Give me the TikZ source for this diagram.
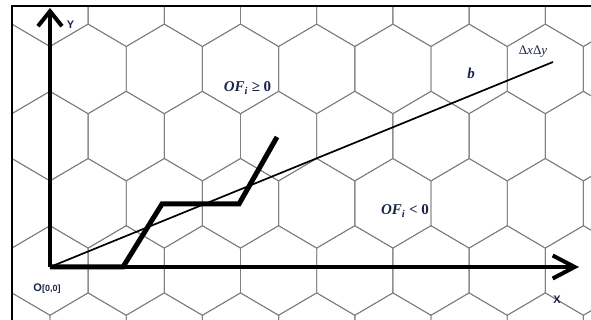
\documentclass[tikz,border=0pt]{standalone}
\usepackage{fontspec}
\usepackage{tikz}
\usetikzlibrary{arrows.meta,calc}
\newfontfamily\axisfont{Liberation Sans}
\newfontfamily\labelfont{Liberation Serif}
\definecolor{labelnavy}{RGB}{28,36,72}
\newcommand{\ofsub}{{\bfseries\itshape OF\textsubscript{i}}}

\begin{document}
\begin{tikzpicture}[x=1pt,y=1pt,
  hexline/.style={draw=gray,line width=0.9pt},
  axisline/.style={line width=4pt},
  pathline/.style={line width=5pt,line join=miter},
  ofilabel/.style={text=labelnavy,font=\labelfont\fontsize{15}{17}\selectfont},
  axislabel/.style={text=labelnavy,font=\axisfont\bfseries\fontsize{11}{13}\selectfont}]
\useasboundingbox (-50,-53) rectangle (541,267);
% hexagon cells, clipped to the frame
\begin{scope}
\clip (-38,-53) rectangle (541,261);
\foreach \j in {-1,...,4} {
  \foreach \k in {-1,...,8} {
    \pgfmathsetmacro\cx{76.2*\k-38.1*mod(\j+2,2)}
    \pgfmathsetmacro\cy{-3.5+67.2*\j}
    \draw[hexline] (\cx,\cy) ++(38.1,22.4) -- ++(-38.1,22.4) -- ++(-38.1,-22.4)
      -- ++(0,-44.8) -- ++(38.1,-22.4) -- ++(38.1,22.4) -- cycle;
  }
}
\end{scope}
% frame (top and left)
\draw[line width=2.6pt] (-38,-53) -- (-38,261) -- (541,261);
% origin, axis tips and path corners
\coordinate (O) at (0,0);
\coordinate (ytip) at (0,259);
\coordinate (xtip) at (529,0);
\coordinate (p1) at (73,0);
\coordinate (p2) at (112,63);
\coordinate (p3) at (189,63);
\coordinate (p4) at (227,130);
\coordinate (bend) at (503,205);
% axes
\draw[axisline,-{Straight Barb[length=15pt,width=24pt]}] (O) -- (ytip);
\draw[axisline,-{Straight Barb[length=22pt,width=23pt]}] (O) -- (xtip);
% line b
\draw[line width=1.7pt] (O) -- (bend);
% stepped path
\draw[pathline] (O) -- (p1) -- (p2) -- (p3) -- (p4);
% labels
\node[axislabel] (ylab) at (20.5,242) {Y};
\node[axislabel] (xlab) at (507,-33) {X};
\node[axislabel] (olab) at (-3,-22) {O{\fontsize{9}{11}\selectfont[0,0]}};
\node[ofilabel] (ofpos) at (197.5,179) {\ofsub\ \textbf{≥} \textbf{0}};
\node[ofilabel] (ofneg) at (355,56) {\ofsub\ \textbf{<} \textbf{0}};
\node[ofilabel] (blab) at (421,194) {\bfseries\itshape b};
\node[text=labelnavy,font=\labelfont\fontsize{13}{15}\selectfont] (dlab) at (483,215) {Δ\textit{x}Δ\textit{y}};
\end{tikzpicture}
\end{document}
